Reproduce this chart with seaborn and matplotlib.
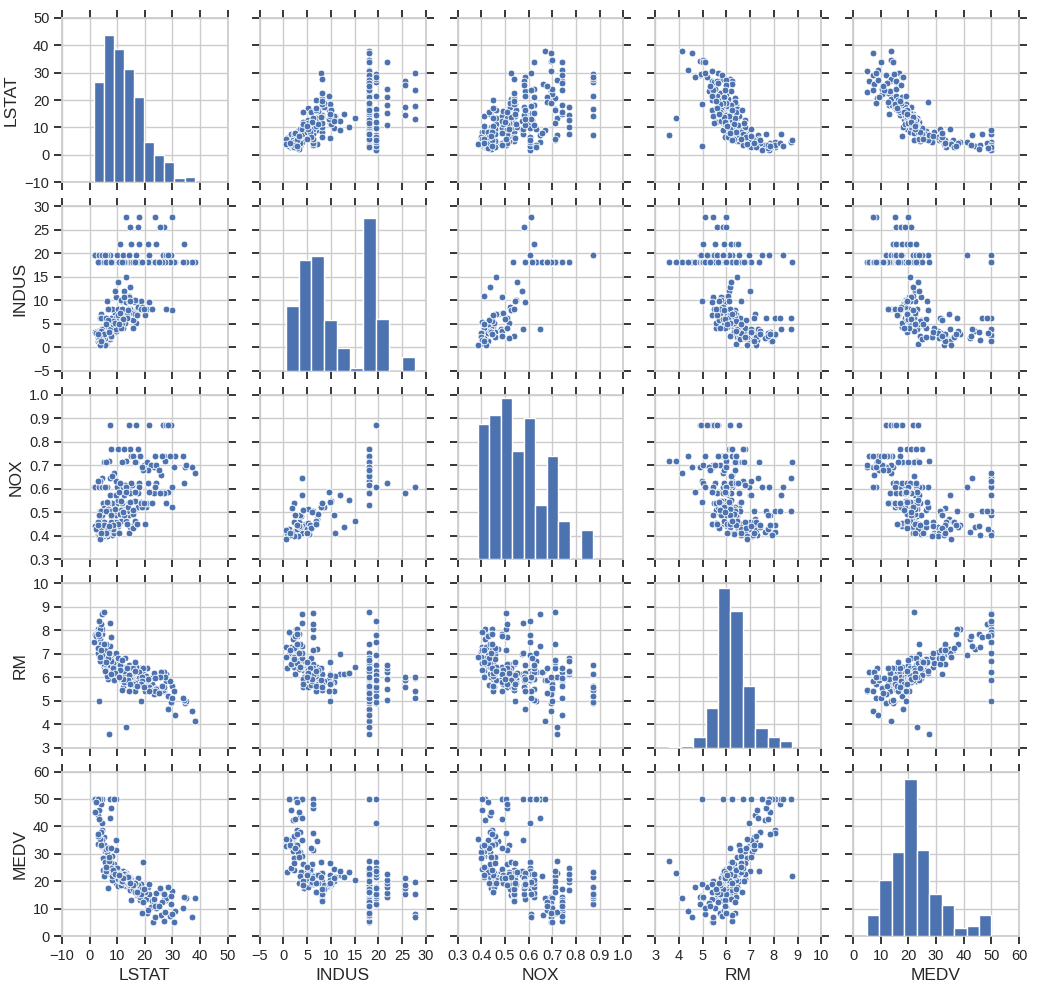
import numpy as np
import pandas as pd
import matplotlib
matplotlib.use("Agg")
import matplotlib.pyplot as plt
import seaborn as sns

# Boston housing columns, a subset of rows
lstat = [4.98, 4.03, 2.94, 5.33, 5.21, 4.45, 2.97, 2.88, 4.63, 3.16,
         3.11, 4.56, 3.53, 5.99, 6.36, 5.04, 7.83, 5.90, 3.59, 1.98,
         9.14, 7.18, 8.05, 6.21, 10.50, 9.62, 8.10, 11.22, 6.72, 4.61,
         6.05, 4.32, 7.56, 8.23, 5.49, 9.50, 6.48, 10.29, 8.79, 7.90,
         6.75, 4.85, 9.42, 5.77, 12.03, 8.67, 5.70, 11.48, 7.67, 3.95,
         12.43, 19.15, 29.93, 17.10, 20.45, 8.26, 10.26, 6.58, 14.67, 21.02,
         27.71, 18.35, 20.34, 13.83, 17.28, 11.69, 22.60, 15.03, 13.00, 9.69,
         6.27, 7.60, 3.76, 4.14, 5.91, 9.59, 12.34, 9.08, 14.80, 10.15,
         11.41, 14.33, 13.35, 12.64, 7.39, 7.44, 9.45, 11.65, 16.20, 15.94,
         26.82, 26.42, 29.29, 27.80, 16.65, 29.53, 28.32, 21.45, 14.10, 7.39,
         1.73, 1.92, 3.32, 4.59, 6.43, 5.50, 11.64, 9.81, 12.14, 14.43,
         37.97, 7.12, 13.33, 36.98, 28.28, 30.81, 34.41, 3.26, 3.73, 2.96,
         9.53, 8.88, 34.77, 30.59, 22.98, 23.34, 26.77, 19.77, 18.13, 17.44,
         10.19, 14.64, 16.74, 20.62, 29.05, 25.79, 22.11, 12.67, 15.17, 23.27,
         8.05, 10.74, 14.19, 18.03, 5.29, 21.22, 24.10, 19.37, 14.98, 27.38,
         34.02, 24.00, 21.00, 18.00, 15.10, 27.10, 25.30, 17.50, 14.50, 29.68,
         17.90, 23.70, 13.10, 18.46, 5.90, 11.00, 16.96, 13.44, 3.81, 2.47,
         15.76, 13.15, 16.47, 11.38, 12.27, 10.45, 14.09, 8.43, 12.93, 17.60,
         7.60, 12.60, 15.70, 33.80, 26.30, 23.80, 16.40, 11.70, 19.00, 25.00,
         13.50, 15.84, 11.10, 8.44, 14.27, 12.50, 16.30, 18.80, 20.08, 9.29,
         4.21, 2.87, 5.25, 3.54, 6.68, 5.81, 4.16, 7.85, 6.92, 3.13,
         16.51, 18.66, 13.98, 15.55, 11.98, 21.32, 17.21, 10.63, 19.52, 14.76]

indus = [2.31, 7.07, 2.18, 2.18, 2.18, 2.46, 1.38, 2.68, 6.20, 1.22,
         3.44, 2.89, 1.52, 3.44, 2.95, 1.89, 4.49, 4.00, 2.03, 3.33,
         7.07, 5.86, 5.13, 4.05, 6.91, 5.96, 4.93, 6.96, 5.19, 3.97,
         0.74, 1.25, 1.69, 2.93, 1.91, 3.24, 2.97, 5.64, 4.95, 3.78,
         4.39, 2.24, 3.41, 5.32, 4.05, 6.06, 0.46, 9.90, 2.18, 1.47,
         7.87, 7.87, 7.87, 7.87, 7.87, 8.14, 8.14, 8.14, 8.14, 8.14,
         8.14, 8.14, 8.14, 8.14, 8.14, 8.14, 8.14, 9.90, 9.69, 10.59,
         9.90, 6.20, 6.20, 6.20, 6.20, 6.20, 11.93, 11.93, 12.83, 13.89,
         10.01, 10.81, 15.04, 5.19, 3.97, 3.97, 3.97, 5.19, 6.91, 6.20,
         19.58, 19.58, 19.58, 19.58, 19.58, 19.58, 19.58, 19.58, 19.58, 19.58,
         19.58, 19.58, 19.58, 19.58, 19.58, 19.58, 19.58, 19.58, 19.58, 19.58,
         18.10, 18.10, 18.10, 18.10, 18.10, 18.10, 18.10, 18.10, 18.10, 18.10,
         18.10, 18.10, 18.10, 18.10, 18.10, 18.10, 18.10, 18.10, 18.10, 18.10,
         18.10, 18.10, 18.10, 18.10, 18.10, 18.10, 18.10, 18.10, 18.10, 18.10,
         18.10, 18.10, 18.10, 18.10, 18.10, 18.10, 18.10, 18.10, 18.10, 18.10,
         21.89, 21.89, 21.89, 21.89, 21.89, 25.65, 25.65, 25.65, 25.65, 27.74,
         27.74, 27.74, 27.74, 9.90, 18.10, 21.89, 5.13, 6.91, 0.46, 2.95,
         5.86, 9.69, 9.69, 4.05, 5.96, 6.91, 10.59, 4.93, 6.20, 8.56,
         18.10, 18.10, 18.10, 18.10, 18.10, 18.10, 18.10, 18.10, 18.10, 18.10,
         6.20, 7.38, 7.38, 5.65, 9.90, 10.59, 10.01, 8.56, 6.91, 5.19,
         3.44, 2.18, 2.89, 2.46, 5.86, 4.95, 1.32, 2.46, 3.33, 2.89,
         6.96, 8.14, 7.87, 4.05, 5.96, 9.69, 6.91, 4.95, 8.14, 9.90]

nox = [0.538, 0.469, 0.458, 0.458, 0.458, 0.488, 0.4161, 0.4161, 0.504, 0.403,
       0.437, 0.445, 0.404, 0.437, 0.428, 0.518, 0.449, 0.410, 0.415, 0.442,
       0.469, 0.431, 0.453, 0.510, 0.448, 0.499, 0.428, 0.464, 0.515, 0.647,
       0.410, 0.429, 0.411, 0.401, 0.413, 0.460, 0.400, 0.439, 0.411, 0.484,
       0.442, 0.400, 0.489, 0.405, 0.510, 0.438, 0.422, 0.544, 0.458, 0.403,
       0.524, 0.524, 0.524, 0.524, 0.524, 0.538, 0.538, 0.538, 0.538, 0.538,
       0.538, 0.538, 0.538, 0.538, 0.538, 0.538, 0.538, 0.544, 0.585, 0.489,
       0.544, 0.507, 0.504, 0.507, 0.504, 0.507, 0.573, 0.573, 0.437, 0.550,
       0.547, 0.413, 0.464, 0.515, 0.647, 0.575, 0.575, 0.515, 0.448, 0.507,
       0.871, 0.871, 0.871, 0.871, 0.871, 0.871, 0.871, 0.871, 0.871, 0.871,
       0.605, 0.605, 0.605, 0.605, 0.605, 0.605, 0.605, 0.605, 0.605, 0.605,
       0.668, 0.718, 0.718, 0.693, 0.584, 0.740, 0.693, 0.631, 0.631, 0.631,
       0.631, 0.668, 0.700, 0.693, 0.700, 0.693, 0.740, 0.700, 0.740, 0.770,
       0.770, 0.770, 0.713, 0.713, 0.740, 0.659, 0.700, 0.614, 0.614, 0.583,
       0.655, 0.584, 0.583, 0.532, 0.713, 0.679, 0.700, 0.679, 0.740, 0.718,
       0.624, 0.624, 0.624, 0.624, 0.624, 0.581, 0.581, 0.581, 0.581, 0.609,
       0.609, 0.609, 0.609, 0.544, 0.713, 0.624, 0.453, 0.448, 0.385, 0.428,
       0.431, 0.585, 0.585, 0.510, 0.499, 0.448, 0.489, 0.428, 0.507, 0.520,
       0.770, 0.770, 0.740, 0.740, 0.740, 0.740, 0.713, 0.713, 0.693, 0.679,
       0.507, 0.493, 0.493, 0.445, 0.544, 0.489, 0.547, 0.520, 0.448, 0.515,
       0.437, 0.458, 0.445, 0.488, 0.431, 0.411, 0.411, 0.488, 0.442, 0.445,
       0.464, 0.538, 0.524, 0.510, 0.499, 0.585, 0.448, 0.411, 0.538, 0.544]

rm = [6.575, 7.185, 6.998, 7.147, 6.430, 7.831, 7.875, 8.034, 8.725, 7.923,
      7.185, 8.069, 7.287, 6.739, 6.980, 6.540, 6.630, 6.800, 7.610, 7.820,
      6.421, 6.590, 6.110, 6.312, 5.910, 6.004, 6.481, 5.890, 6.310, 8.704,
      6.383, 6.939, 6.579, 6.604, 6.801, 6.333, 7.088, 6.115, 6.254, 6.426,
      6.014, 6.871, 6.417, 6.315, 5.572, 6.595, 7.267, 6.122, 6.781, 7.135,
      6.012, 6.172, 5.631, 6.004, 6.377, 5.949, 6.096, 5.935, 5.990, 5.570,
      5.813, 5.950, 6.047, 5.834, 6.142, 5.456, 5.727, 5.914, 5.794, 5.960,
      6.635, 7.686, 8.040, 8.247, 7.163, 6.552, 6.120, 6.976, 6.140, 6.185,
      5.913, 6.065, 6.442, 6.316, 7.327, 8.297, 7.017, 5.895, 5.520, 5.900,
      5.403, 5.468, 4.903, 6.130, 5.628, 4.926, 5.186, 5.597, 6.152, 6.510,
      7.489, 7.802, 8.375, 6.943, 6.066, 6.250, 5.854, 6.101, 5.877, 5.875,
      4.138, 3.561, 3.863, 4.550, 4.652, 4.368, 4.880, 4.970, 6.683, 7.016,
      6.216, 5.875, 5.000, 5.390, 5.453, 5.277, 6.219, 5.710, 6.406, 6.127,
      6.800, 6.200, 6.436, 6.376, 5.818, 6.229, 5.960, 6.800, 6.185, 6.193,
      6.209, 6.000, 6.516, 5.998, 8.780, 5.896, 5.536, 6.380, 5.935, 6.000,
      5.019, 5.500, 5.900, 6.200, 6.400, 5.599, 6.000, 5.856, 6.000, 5.093,
      5.983, 5.414, 6.000, 4.973, 7.393, 6.500, 5.560, 6.030, 6.860, 7.770,
      5.682, 5.926, 5.390, 5.927, 5.850, 6.169, 5.412, 6.606, 6.086, 5.804,
      6.701, 6.251, 6.406, 5.100, 5.627, 5.950, 6.655, 6.728, 5.987, 5.304,
      6.376, 5.708, 6.312, 6.395, 6.096, 5.783, 5.757, 5.851, 5.399, 6.168,
      7.416, 7.249, 7.416, 7.765, 6.826, 6.630, 7.161, 6.153, 7.041, 7.820,
      6.250, 5.727, 5.889, 5.720, 5.933, 5.390, 5.602, 6.009, 5.570, 5.700]

medv = [24.0, 34.7, 33.4, 36.2, 28.7, 50.0, 50.0, 50.0, 50.0, 50.0,
        44.0, 38.7, 46.0, 30.7, 31.6, 33.1, 23.7, 29.1, 42.3, 45.4,
        21.6, 24.6, 22.9, 26.4, 20.0, 21.2, 24.5, 19.7, 23.0, 50.0,
        23.5, 34.9, 24.8, 29.1, 31.2, 19.3, 30.8, 22.0, 23.6, 23.2,
        17.5, 28.6, 22.0, 24.4, 18.7, 26.4, 33.0, 22.2, 26.5, 32.9,
        22.9, 27.1, 16.5, 18.9, 15.0, 20.4, 18.2, 23.1, 17.5, 13.6,
        13.2, 13.1, 13.5, 19.6, 14.8, 20.2, 12.7, 18.4, 18.3, 24.4,
        26.6, 46.7, 37.6, 48.3, 31.7, 31.5, 22.4, 23.9, 21.7, 23.3,
        18.7, 21.7, 20.6, 23.2, 43.1, 50.0, 35.2, 20.6, 19.6, 18.9,
        13.4, 15.6, 11.8, 13.8, 15.6, 14.6, 17.8, 15.4, 21.5, 23.3,
        50.0, 50.0, 50.0, 41.3, 24.3, 27.0, 22.7, 25.0, 23.8, 17.4,
        13.8, 27.5, 23.1, 7.0, 17.9, 9.1, 14.4, 50.0, 50.0, 50.0,
        50.0, 50.0, 13.8, 5.0, 5.0, 11.9, 5.6, 8.4, 14.1, 19.6,
        20.8, 16.8, 17.8, 8.5, 7.2, 7.5, 10.5, 22.6, 18.7, 13.4,
        21.9, 23.0, 19.9, 16.0, 21.9, 9.5, 10.4, 12.5, 13.1, 8.8,
        14.4, 15.6, 17.8, 19.5, 20.4, 15.4, 17.4, 21.0, 18.7, 8.1,
        15.2, 7.0, 19.7, 19.0, 23.7, 22.8, 17.8, 19.4, 35.4, 48.8,
        19.4, 19.6, 19.5, 20.1, 19.8, 22.2, 20.2, 23.4, 21.1, 18.8,
        25.0, 22.7, 17.1, 10.2, 12.3, 11.0, 16.1, 19.9, 8.3, 10.9,
        22.0, 19.3, 22.2, 24.1, 20.4, 21.0, 19.1, 17.2, 16.2, 22.5,
        38.0, 36.4, 33.3, 42.8, 32.0, 25.3, 33.1, 32.2, 29.0, 37.2,
        19.5, 15.2, 21.7, 18.5, 21.0, 19.1, 16.0, 22.3, 17.1, 19.3]

# histogram counts (10 bins between min and max of each column), read from the diagonal
lstat_counts = [75, 110, 100, 85, 64, 30, 20, 15, 3, 4]
indus_counts = [56, 96, 99, 44, 20, 2, 132, 45, 0, 12]
nox_counts = [75, 80, 89, 60, 78, 30, 57, 21, 0, 16]
rm_counts = [1, 2, 12, 45, 181, 154, 70, 22, 12, 7]
medv_counts = [21, 55, 82, 154, 84, 41, 30, 8, 10, 21]
hist_ranges = [(1.73, 37.97), (0.46, 27.74), (0.385, 0.871), (3.561, 8.78), (5.0, 50.0)]

cols = ["LSTAT", "INDUS", "NOX", "RM", "MEDV"]
df = pd.DataFrame({"LSTAT": lstat, "INDUS": indus, "NOX": nox, "RM": rm, "MEDV": medv})
counts = [lstat_counts, indus_counts, nox_counts, rm_counts, medv_counts]

lims = [(-10, 50, 10), (-5, 30, 5), (0.3, 1.0, 0.1), (3, 10, 1), (0, 60, 10)]
diag_top = [123, 142, 91, 186, 161]

sns.set_theme(style="whitegrid")
plt.rcParams.update({
    "font.family": ["Liberation Sans", "DejaVu Sans"],
    "xtick.bottom": True, "xtick.top": True,
    "ytick.left": True, "ytick.right": True,
    "xtick.direction": "out", "ytick.direction": "out",
    "xtick.major.size": 5.5, "ytick.major.size": 5.5,
    "xtick.major.width": 1.3, "ytick.major.width": 1.3,
    "xtick.color": ".15", "ytick.color": ".15",
    "xtick.labelsize": 10.5, "ytick.labelsize": 10.5,
    "axes.labelsize": 12.5,
    "axes.edgecolor": ".8",
})

blue = "#4c72b0"
g = sns.PairGrid(df, vars=cols, diag_sharey=False, despine=False, height=2)
g.map_offdiag(sns.scatterplot, color=blue, s=24, edgecolor="white", linewidth=0.6)

for i in range(5):
    lo, hi, step = lims[i]
    ticks = np.round(np.arange(lo, hi + step / 2, step), 2)
    for ax in g.axes[i, :]:
        ax.set_ylim(lo, hi)
        ax.set_yticks(ticks)
    for ax in g.axes[:, i]:
        ax.set_xlim(lo, hi)
        ax.set_xticks(ticks)

for i in range(5):
    ax = g.axes[i, i]
    dax = ax.twinx()
    dax.set_axis_off()
    edges = np.linspace(hist_ranges[i][0], hist_ranges[i][1], 11)
    hist_df = pd.DataFrame({"v": (edges[:-1] + edges[1:]) / 2, "w": counts[i]})
    sns.histplot(data=hist_df, x="v", weights="w", bins=list(edges), ax=dax,
                 color=blue, alpha=1, edgecolor="white", linewidth=1)
    dax.set_ylim(0, diag_top[i])
    dax.set_xlim(lims[i][0], lims[i][1])

g.figure.set_size_inches(10.43, 9.88)
g.figure.subplots_adjust(left=0.0594, right=0.977, top=0.982, bottom=0.0526,
                         wspace=0.193, hspace=0.146)
g.figure.savefig("out.png", dpi=100)
